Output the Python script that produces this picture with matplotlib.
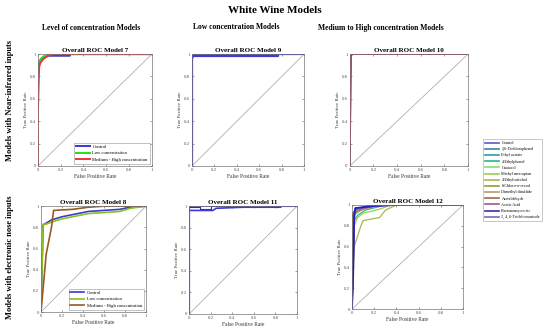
import matplotlib
matplotlib.use('Agg')
import matplotlib.pyplot as plt

plt.rcParams['font.family'] = ['Liberation Serif', 'DejaVu Serif']

# ---- data ----
level_labels = ['Control', 'Low concentration', 'Medium - High concentration']

# Model 7 (NIR, level of concentration)
m7_control_fpr = [0, 0, 0.01, 0.03, 0.06, 0.10, 0.28, 0.28, 1]
m7_control_tpr = [0, 0.90, 0.93, 0.96, 0.98, 0.985, 0.985, 1, 1]
m7_low_fpr = [0, 0, 0.02, 0.05, 0.10, 1]
m7_low_tpr = [0, 0.88, 0.95, 0.98, 1, 1]
m7_high_fpr = [0, 0, 0.01, 0.02, 0.05, 0.10, 0.15, 1]
m7_high_tpr = [0, 0.50, 0.88, 0.92, 0.96, 0.99, 1, 1]

# Model 8 (e-nose, level of concentration)
m8_control_fpr = [0, 0.02, 0.05, 0.10, 0.20, 0.30, 0.45, 0.60, 0.75, 0.85, 1]
m8_control_tpr = [0, 0.82, 0.84, 0.87, 0.90, 0.92, 0.95, 0.96, 0.97, 0.99, 1]
m8_low_fpr = [0, 0.02, 0.05, 0.10, 0.20, 0.30, 0.45, 0.60, 0.75, 0.85, 1]
m8_low_tpr = [0, 0.83, 0.83, 0.85, 0.88, 0.90, 0.93, 0.94, 0.95, 0.98, 1]
m8_high_fpr = [0, 0.05, 0.10, 0.12, 0.30, 0.45, 0.60, 1]
m8_high_tpr = [0, 0.55, 0.80, 0.96, 0.97, 0.99, 1, 1]

# Model 9 (NIR, low concentration)
m9_a_fpr = [0, 0, 0.77, 0.77, 1]
m9_a_tpr = [0, 0.98, 0.98, 1, 1]
m9_b_fpr = [0, 0, 0.02, 1]
m9_b_tpr = [0, 0.95, 1, 1]
m9_c_fpr = [0, 0, 1]
m9_c_tpr = [0, 1, 1]

# Model 11 (e-nose, low concentration)
m11_a_fpr = [0, 0, 0.22, 0.25, 0.50, 0.85, 0.85, 1]
m11_a_tpr = [0, 0.96, 0.96, 0.98, 0.99, 0.99, 1, 1]
m11_b_fpr = [0, 0, 0.10, 0.10, 0.20, 0.20, 1]
m11_b_tpr = [0, 0.99, 0.99, 0.97, 0.97, 1, 1]
m11_c_fpr = [0, 0, 1]
m11_c_tpr = [0, 1, 1]

# Compound classes (models 10 and 12)
compounds = ['Control', '2,6-Dichlorophenol', 'Ethyl acetate', '4-Ethylphenol',
             'Guaiacol', 'Methyl mercaptan', '4-Ethylcatechol', '6-Chloro-o-cresol',
             'Dimethyl disulfide', 'Acetaldehyde', 'Acetic Acid',
             'Bretanomyces etc', '2, 4, 6-Trichloroanisole']
compound_colors = ['#5b5bc8', '#3d7fb0', '#2e9e9e', '#2fb58a', '#7fe07f', '#9ccc50',
                   '#a8b84a', '#9a9a3a', '#b89a70', '#a06a50', '#a05a90',
                   '#4a2aa0', '#7a6ac8']

# Model 10: near perfect for every class
m10_fpr = [
    [0, 0, 1], [0, 0, 0.01, 1], [0, 0, 1], [0, 0, 0.01, 1], [0, 0, 1],
    [0, 0, 1], [0, 0, 0.01, 1], [0, 0, 1], [0, 0, 1], [0, 0.01, 0.01, 0.02, 1],
    [0, 0, 0.01, 1], [0, 0, 1], [0, 0, 1],
]
m10_tpr = [
    [0, 1, 1], [0, 0.97, 1, 1], [0, 1, 1], [0, 0.98, 1, 1], [0, 1, 1],
    [0, 1, 1], [0, 0.96, 1, 1], [0, 1, 1], [0, 1, 1], [0, 0.93, 0.98, 1, 1],
    [0, 0.95, 1, 1], [0, 1, 1], [0, 1, 1],
]

# Model 12
m12_fpr = [
    [0, 0.01, 0.02, 0.05, 0.10, 0.20, 1],
    [0, 0.01, 0.03, 0.08, 0.15, 1],
    [0, 0.01, 0.04, 0.10, 0.18, 1],
    [0, 0.02, 0.05, 0.12, 0.30, 1],
    [0, 0.01, 0.03, 0.10, 0.25, 1],
    [0, 0.02, 0.05, 0.10, 0.25, 0.35, 1],
    [0, 0.02, 0.08, 0.10, 0.25, 0.30, 0.40, 1],
    [0, 0.01, 0.05, 0.12, 0.20, 1],
    [0, 0.01, 0.03, 0.10, 0.20, 0.30, 1],
    [0, 0.01, 0.03, 0.08, 0.20, 1],
    [0, 0.01, 0.04, 0.12, 0.25, 1],
    [0, 0.01, 0.02, 0.03, 0.20, 0.40, 1],
    [0, 0.02, 0.03, 0.10, 0.30, 1],
]
m12_tpr = [
    [0, 0.85, 0.92, 0.95, 0.98, 1, 1],
    [0, 0.90, 0.94, 0.97, 1, 1],
    [0, 0.88, 0.93, 0.96, 1, 1],
    [0, 0.85, 0.90, 0.95, 1, 1],
    [0, 0.92, 0.95, 0.98, 1, 1],
    [0, 0.80, 0.88, 0.92, 0.96, 1, 1],
    [0, 0.60, 0.80, 0.85, 0.88, 0.95, 1, 1],
    [0, 0.90, 0.93, 0.97, 1, 1],
    [0, 0.92, 0.94, 0.96, 0.98, 1, 1],
    [0, 0.93, 0.95, 0.97, 1, 1],
    [0, 0.91, 0.95, 0.97, 1, 1],
    [0, 0.30, 0.90, 0.97, 0.99, 1, 1],
    [0, 0.85, 0.95, 0.98, 1, 1],
]

ticks = [0, 0.2, 0.4, 0.6, 0.8, 1]
tick_labels = ['0', '0.2', '0.4', '0.6', '0.8', '1']


def setup_axes(ax, title):
    ax.plot([0, 1], [0, 1], color='#b0b0b0', lw=0.6, zorder=1)
    ax.set_xlim(0, 1)
    ax.set_ylim(0, 1)
    ax.set_xticks(ticks)
    ax.set_yticks(ticks)
    ax.set_xticklabels(tick_labels)
    ax.set_yticklabels(tick_labels)
    ax.tick_params(direction='in', length=1.5, width=0.4, labelsize=3.5, pad=1.5,
                   top=True, right=True, colors='#555555')
    for s in ax.spines.values():
        s.set_linewidth(0.5)
        s.set_color('#777777')
    ax.set_xlabel('False Positive Rate', fontsize=4, labelpad=1.5, color='#333333')
    ax.set_ylabel('True Positive Rate', fontsize=3.5, labelpad=1.5, color='#333333')
    ax.set_title(title, fontsize=5, fontweight='bold', pad=1.5)


fig = plt.figure(figsize=(5.5, 3.36), dpi=100)

ax7 = fig.add_axes([0.069, 0.506, 0.207, 0.333])
ax9 = fig.add_axes([0.349, 0.506, 0.204, 0.333])
ax10 = fig.add_axes([0.636, 0.506, 0.215, 0.333])
ax8 = fig.add_axes([0.0745, 0.0714, 0.191, 0.315])
ax11 = fig.add_axes([0.344, 0.0655, 0.196, 0.321])
ax12 = fig.add_axes([0.640, 0.080, 0.202, 0.310])

# Model 7
setup_axes(ax7, 'Overall ROC Model 7')
ax7.plot(m7_control_fpr, m7_control_tpr, color='#3a3ac8', lw=1.4, label=level_labels[0])
ax7.plot(m7_low_fpr, m7_low_tpr, color='#22e022', lw=1.4, label=level_labels[1])
ax7.plot(m7_high_fpr, m7_high_tpr, color='#f03040', lw=1.4, label=level_labels[2])
ax7.legend(loc='lower right', fontsize=3.3, frameon=True, fancybox=False,
           edgecolor='#777777', borderpad=0.4, handlelength=3, labelspacing=0.5,
           handletextpad=0.5).get_frame().set_linewidth(0.4)

# Model 8
setup_axes(ax8, 'Overall ROC Model 8')
ax8.plot(m8_control_fpr, m8_control_tpr, color='#3a3ad0', lw=1.2, label=level_labels[0])
ax8.plot(m8_low_fpr, m8_low_tpr, color='#8cc020', lw=1.2, label=level_labels[1])
ax8.plot(m8_high_fpr, m8_high_tpr, color='#9a5a20', lw=1.2, label=level_labels[2])
ax8.legend(loc='lower right', fontsize=3.3, frameon=True, fancybox=False,
           edgecolor='#777777', borderpad=0.4, handlelength=3, labelspacing=0.5,
           handletextpad=0.5).get_frame().set_linewidth(0.4)

# Model 9
setup_axes(ax9, 'Overall ROC Model 9')
ax9.plot(m9_c_fpr, m9_c_tpr, color='#8060c0', lw=1.4)
ax9.plot(m9_b_fpr, m9_b_tpr, color='#303090', lw=1.0)
ax9.plot(m9_a_fpr, m9_a_tpr, color='#3a3ad8', lw=1.6)

# Model 11
setup_axes(ax11, 'Overall ROC Model 11')
ax11.plot(m11_c_fpr, m11_c_tpr, color='#5040b0', lw=1.2)
ax11.plot(m11_b_fpr, m11_b_tpr, color='#303090', lw=0.8)
ax11.plot(m11_a_fpr, m11_a_tpr, color='#3a3ad8', lw=1.2)

# Model 10
setup_axes(ax10, 'Overall ROC Model 10')
for fpr, tpr, c, name in zip(m10_fpr, m10_tpr, compound_colors, compounds):
    ax10.plot(fpr, tpr, color=c, lw=1.2, label=name)
ax10.plot(m10_fpr[9], m10_tpr[9], color='#d02040', lw=1.0)
handles, labels = ax10.get_legend_handles_labels()
leg = fig.legend(handles[:13], labels[:13], loc='upper left',
                 bbox_to_anchor=(0.875, 0.592), fontsize=3.0, frameon=True,
                 fancybox=False, edgecolor='#888888', borderpad=0.45,
                 handlelength=3.4, labelspacing=0.52, handletextpad=0.5)
leg.get_frame().set_linewidth(0.4)

# Model 12
setup_axes(ax12, 'Overall ROC Model 12')
for fpr, tpr, c in zip(m12_fpr, m12_tpr, compound_colors):
    ax12.plot(fpr, tpr, color=c, lw=0.9)
ax12.plot(m12_fpr[11], m12_tpr[11], color='#2020c0', lw=1.3)

# headers
fig.text(0.5, 0.97, 'White Wine Models', ha='center', va='center',
         fontsize=8, fontweight='bold')
fig.text(0.165, 0.918, 'Level of concentration Models', ha='center', va='center',
         fontsize=5.5, fontweight='bold')
fig.text(0.43, 0.92, 'Low concentration Models', ha='center', va='center',
         fontsize=5.5, fontweight='bold')
fig.text(0.693, 0.918, 'Medium to High concentration Models', ha='center', va='center',
         fontsize=5.5, fontweight='bold')
fig.text(0.018, 0.70, 'Models with Near-infrared inputs', ha='center', va='center',
         rotation=90, fontsize=6, fontweight='bold')
fig.text(0.018, 0.235, 'Models with electronic nose inputs', ha='center', va='center',
         rotation=90, fontsize=6, fontweight='bold')

fig.savefig('out.png', dpi=100)
